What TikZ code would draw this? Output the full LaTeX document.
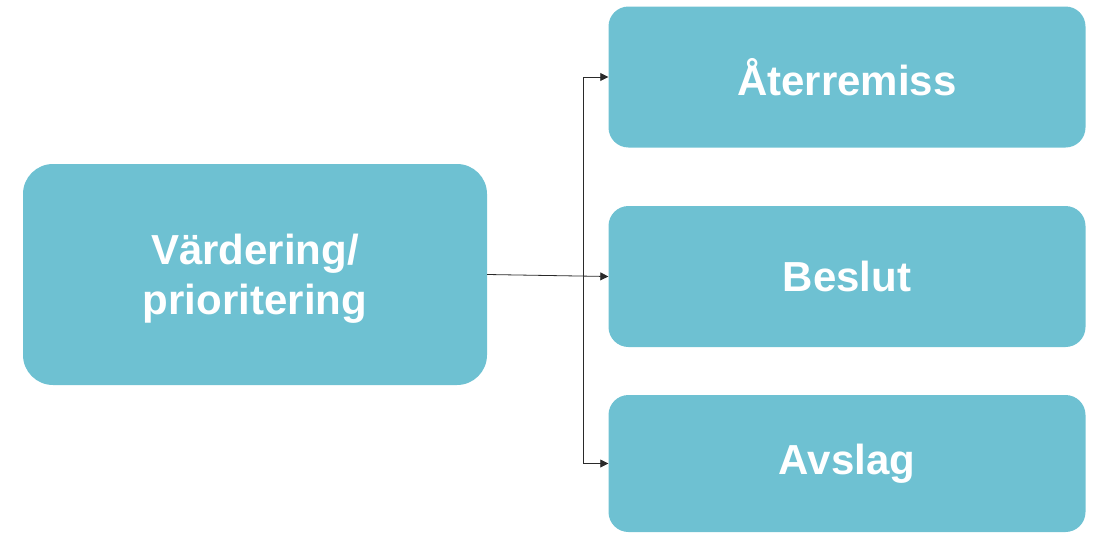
\documentclass[tikz,border=0pt]{standalone}
\usepackage{fontspec}
\setmainfont{Liberation Sans}
\usetikzlibrary{arrows.meta}
\definecolor{boxfill}{HTML}{6EC1D2}
\definecolor{linkcol}{HTML}{2A2A2A}
\begin{document}
\begin{tikzpicture}[x=1pt,y=-1pt,
  card/.style={fill=boxfill,draw=none,text=white,align=center,
    font=\bfseries\fontsize{42}{50}\selectfont,inner sep=0pt},
  bigcard/.style={card,rounded corners=30pt,minimum width=464pt,minimum height=221pt},
  smallcard/.style={card,rounded corners=20pt,minimum width=477pt,minimum height=141pt},
  link/.style={draw=linkcol,line width=0.8pt,-{Triangle[length=8pt,width=8pt]}}]
  \useasboundingbox (0,0) rectangle (1096,533);
  \node[bigcard] (vard) at (255,274.5) {};
  \node[card] (vardtext) at (255,279) {Värdering/\\prioritering};
  \node[smallcard] (ater) at (847,77) {Återremiss};
  \node[smallcard] (besl) at (847,276.5) {Beslut};
  \node[smallcard,minimum height=137pt] (avsl) at (847,463.5) {Avslag};
  \coordinate (fork) at (583,276);
  \draw[link] (vard.east) -- (besl.west);
  \draw[link] (fork) |- (ater.west);
  \draw[link] (fork) |- (avsl.west);
\end{tikzpicture}
\end{document}
